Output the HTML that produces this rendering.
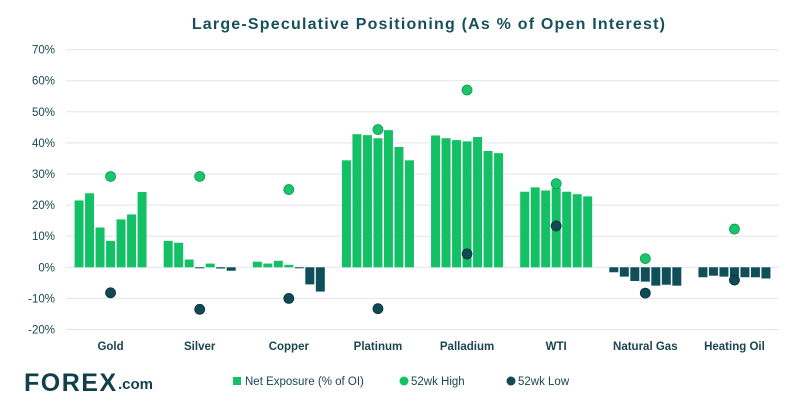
<!DOCTYPE html>
<html><head><meta charset="utf-8"><style>
body{margin:0;background:#fff;width:796px;height:404px;overflow:hidden;font-family:"Liberation Sans",sans-serif}
</style></head><body>
<svg id="c" width="796" height="404" xmlns="http://www.w3.org/2000/svg">
<text x="429" y="29" text-anchor="middle" font-size="16" font-weight="bold" fill="#17505b" letter-spacing="1.2">Large-Speculative Positioning (As % of Open Interest)</text>
<g id="grid"></g><g id="bars"></g><g id="dots"></g>
<g><text x="24" y="391" font-size="25" font-weight="bold" fill="#123f4c" letter-spacing="1.5">FOREX</text><text x="118" y="389" font-size="15" font-weight="bold" fill="#123f4c">.com</text></g>
<g>
<rect x="233" y="377" width="8" height="8" fill="#13c065"/>
<text x="245" y="385" font-size="11.5" fill="#1b4651">Net Exposure (% of OI)</text>
<circle cx="404" cy="381" r="4.5" fill="#13c065"/>
<text x="411" y="385" font-size="11.5" fill="#1b4651">52wk High</text>
<circle cx="511" cy="381" r="4.5" fill="#0f4a55"/>
<text x="518" y="385" font-size="11.5" fill="#1b4651">52wk Low</text>
</g>
</svg>
<script>
const categories=["Gold","Silver","Copper","Platinum","Palladium","WTI","Natural Gas","Heating Oil"];
const netExposure=[
[21.5,23.8,12.8,8.5,15.4,17,24.2],
[8.5,7.9,2.5,-0.2,1.2,-0.4,-1.1],
[1.8,1.2,2.1,0.8,-0.2,-5.5,-7.8],
[34.4,42.8,42.5,41.5,44.1,38.7,34.4],
[42.4,41.5,40.9,40.5,41.9,37.4,36.7],
[24.3,25.7,24.7,25.5,24.3,23.5,22.8],
[-1.6,-3,-4.4,-4.6,-5.9,-5.6,-5.9],
[-3.2,-2.7,-3,-3,-3.2,-3.2,-3.6]];
const high52=[29.2,29.2,25,44.3,57,26.9,2.8,12.3];
const low52=[-8.2,-13.5,-10,-13.3,4.3,13.3,-8.3,-4.1];
const ticks=[70,60,50,40,30,20,10,0,-10,-20];
const NS="http://www.w3.org/2000/svg";
const x0=66,x1=779,yZero=267.3,pxPer=3.11;
const y=v=>yZero-v*pxPer;
const cw=(x1-x0)/categories.length;
const cx=i=>x0+cw*(i+0.5);
function mk(t,a,p){const e=document.createElementNS(NS,t);for(const k in a)e.setAttribute(k,a[k]);p.appendChild(e);return e;}
const G=document.getElementById('grid'),B=document.getElementById('bars'),D=document.getElementById('dots');
ticks.forEach(t=>{
 const l=mk('line',{x1:x0,x2:x1,y1:y(t),y2:y(t),stroke:'#e1e6e8','stroke-width':1},G);
 
 
 const tx=mk('text',{x:55,y:y(t)+4,'text-anchor':'end','font-size':11.5,fill:'#1b4651'},G);
 tx.textContent=t+'%';
 
 
});
categories.forEach((c,i)=>{
 const tx=mk('text',{x:cx(i),y:350,'text-anchor':'middle','font-size':11.5,'font-weight':'bold',fill:'#1b4651'},G);
 tx.textContent=c;
 
 
 const n=netExposure[i].length,step=10.5,bw=9;
 netExposure[i].forEach((v,j)=>{
  const bx=cx(i)+(j-(n-1)/2)*step-bw/2;
  const top=Math.min(y(v),yZero),h=Math.max(Math.abs(y(v)-yZero),1);
  const r=mk('rect',{x:bx,y:top,width:bw,height:h,fill:v>=0?'#13c065':'#0f4f5a'},B);
  
  
 });
 const hd=mk('circle',{cx:cx(i),cy:y(high52[i]),r:5,fill:'#19c46a',stroke:'#0f9a50','stroke-width':0.8},D);
 
 
 const ld=mk('circle',{cx:cx(i),cy:y(low52[i]),r:5,fill:'#0f4a55',stroke:'#08323a','stroke-width':0.8},D);
 
 
});
</script>
</body></html>
